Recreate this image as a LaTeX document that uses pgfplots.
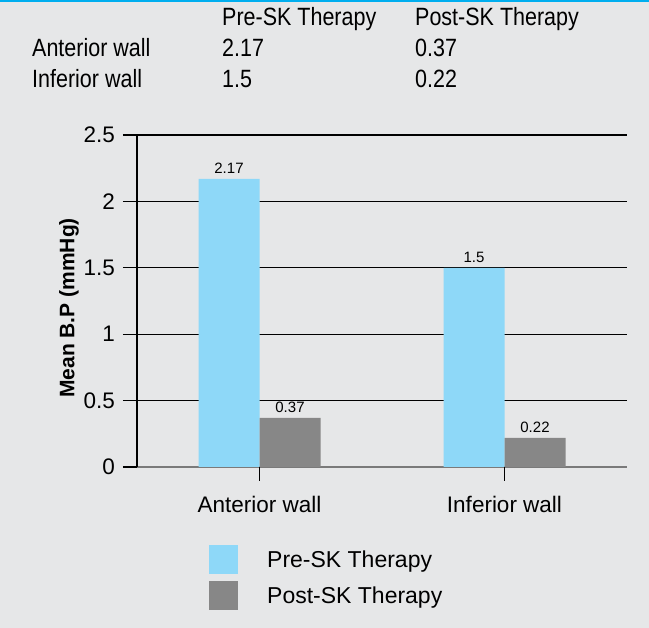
\documentclass[border=0pt]{standalone}
\usepackage{pgfplots}
\pgfplotsset{compat=1.18}
\usepackage{fontspec}
\setmainfont{Liberation Sans}
\newfontfamily\condfont[FakeStretch=0.86]{Liberation Sans}
\definecolor{bgc}{HTML}{E6E7E8}
\definecolor{prec}{HTML}{8ED8F8}
\definecolor{postc}{HTML}{878787}
\definecolor{topc}{HTML}{00AEEF}
\definecolor{xaxc}{HTML}{7A7A7A}
\begin{document}
\begin{tikzpicture}[x=1pt,y=1pt]
\fill[bgc] (0,0) rectangle (649,628);
\fill[topc] (0,625.5) rectangle (649,628);
\begin{scope}[every node/.style={anchor=base west, inner sep=0pt, font=\condfont\fontsize{25}{29}\selectfont}]
\node at (222,602) {Pre-SK Therapy};
\node at (415,602) {Post-SK Therapy};
\node at (32,571) {Anterior wall};
\node at (222,571) {2.17};
\node at (415,571) {0.37};
\node at (32,540) {Inferior wall};
\node at (222,540) {1.5};
\node at (415,540) {0.22};
\end{scope}
\begin{axis}[
  at={(137pt,161pt)}, anchor=south west,
  scale only axis, width=490pt, height=332pt,
  clip=false,
  ybar=0pt, bar width=61pt,
  ymin=0, ymax=2.5, xmin=-0.5, xmax=1.5,
  xtick={0,1}, xticklabels={Anterior wall, Inferior wall},
  ytick={0.5,1,1.5,2,2.5},
  extra y ticks={0}, extra y tick style={ymajorgrids=false},
  ymajorgrids, grid style={black, line width=1.2pt},
  axis x line=bottom, axis y line=left,
  axis line style={-},
  x axis line style={xaxc, line width=1.6pt},
  y axis line style={black, line width=1.2pt},
  tick align=outside,
  major tick length=14pt,
  tick style={black, line width=1.2pt},
  /pgf/number format/assume math mode=true,
  tick label style={font=\fontsize{22.5}{26}\selectfont},
  yticklabel style={anchor=east, inner sep=0pt, xshift=-8pt},
  xticklabel style={anchor=base, inner sep=0pt, yshift=-32pt},
  ylabel={Mean B.P (mmHg)},
  ylabel style={font=\bfseries\fontsize{21}{25}\selectfont, at={(axis description cs:-0.1388,0.479)}, anchor=center},
  nodes near coords,
  nodes near coords style={font=\fontsize{15}{18}\selectfont, anchor=south, inner sep=0pt, yshift=5pt, black},
  legend style={at={(axis description cs:0.1469,-0.2349)}, anchor=north west, draw=none, fill=none, inner sep=0pt, column sep=29pt, row sep=7pt, font=\fontsize{23}{27}\selectfont, nodes={inner sep=0pt}, cells={anchor=west}},
  legend image code/.code={\fill[#1] (0pt,-14.5pt) rectangle (29pt,14.5pt);},
]
\addplot[fill=prec, draw=none] coordinates {(0,2.17) (1,1.5)};
\addplot[fill=postc, draw=none] coordinates {(0,0.37) (1,0.22)};
\legend{Pre-SK Therapy, Post-SK Therapy}
\coordinate (tA) at (axis cs:0,0);
\coordinate (tB) at (axis cs:1,0);
\end{axis}
\node[fill=black, inner sep=0pt, minimum width=1.6pt, minimum height=14pt, anchor=north] at (tA) {};
\node[fill=black, inner sep=0pt, minimum width=1.6pt, minimum height=14pt, anchor=north] at (tB) {};
\end{tikzpicture}
\end{document}
